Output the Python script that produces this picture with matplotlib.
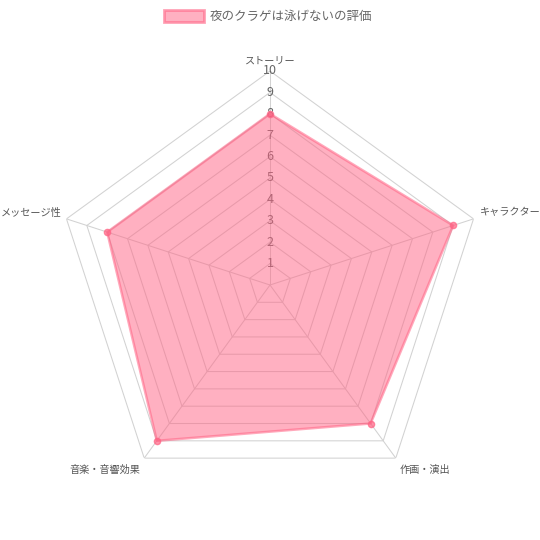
import numpy as np
import matplotlib
matplotlib.use("Agg")
import matplotlib.pyplot as plt
from matplotlib.patches import Rectangle

plt.rcParams["font.family"] = ["Noto Sans CJK JP", "DejaVu Sans"]

categories = ["ストーリー", "キャラクター", "作画・演出", "音楽・音響効果", "メッセージ性"]
scores = [8, 9, 8, 9, 8]
ticks = list(range(1, 11))
series_name = "夜のクラゲは泳げないの評価"

pink = (1.0, 99 / 255, 132 / 255)
grid_color = "#d2d2d2"
text_color = "#555555"

fig = plt.figure(figsize=(5.4, 5.4), dpi=100)
ax = fig.add_axes([56 / 540, 41 / 540, 428 / 540, 428 / 540], projection="polar")
ax.set_theta_offset(np.pi / 2)
ax.set_theta_direction(-1)
ax.set_ylim(0, 10)
ax.grid(False)
ax.spines["polar"].set_visible(False)
ax.set_xticks([])
ax.set_yticks([])
ax.patch.set_alpha(0)

n = len(categories)
angles = np.linspace(0, 2 * np.pi, n, endpoint=False)
closed = np.append(angles, angles[0])

# polygon grid and spokes
for t in ticks:
    ax.plot(closed, [t] * (n + 1), color=grid_color, lw=0.75, zorder=1)
for a in angles:
    ax.plot([a, a], [0, 10], color=grid_color, lw=0.75, zorder=1)

# tick labels along the top axis
for t in ticks:
    ax.text(0, t, str(t), ha="center", va="center", fontsize=9,
            color="#666666", zorder=2)

vals = scores + scores[:1]
ax.fill(closed, vals, color=pink, alpha=0.5, lw=0, zorder=3)
ax.plot(closed, vals, color=pink, alpha=0.55, lw=1.8, zorder=4)
ax.plot(angles, scores, "o", ms=4.5, color=pink, alpha=0.7, mec=pink, zorder=5)

# point labels
label_pos = [((0, 10), "center"), ((6, 7), "left"), ((4, -12), "left"),
             ((-4, -12), "right"), ((-5, 6), "right")]
for a, lab, (off, ha) in zip(angles, categories, label_pos):
    ax.annotate(lab, xy=(a, 10), xytext=off, textcoords="offset pixels",
                ha=ha, va="center", fontsize=7.3, color=text_color)

# legend
fig.patches.append(Rectangle((164 / 540, 1 - 22 / 540), 40 / 540, 12 / 540,
                             transform=fig.transFigure, facecolor=(*pink, 0.5),
                             edgecolor=(*pink, 0.6), lw=2))
fig.text(210 / 540, 1 - 16 / 540, series_name, ha="left", va="center",
         fontsize=9, color="#666666")

fig.savefig("out.png", dpi=100)
